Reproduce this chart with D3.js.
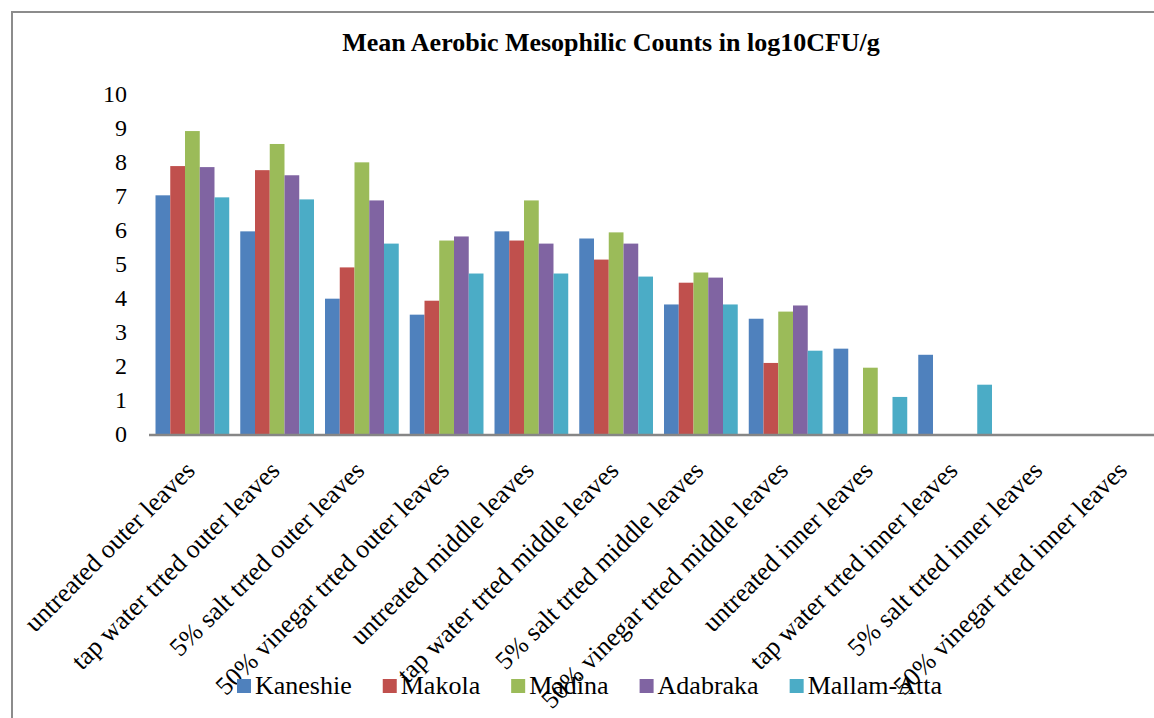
<!DOCTYPE html>
<meta charset="utf-8">
<script src="https://d3js.org/d3.v7.min.js"></script>
<style>
  body { margin: 0; background: #fff; }
  text { font-family: "Liberation Serif", "Times New Roman", serif; fill: #000; }
</style>
<div id="chart"></div>
<script>

// categories along the x axis
var categories = [
  "untreated outer leaves",
  "tap water trted outer leaves",
  "5% salt trted outer leaves",
  "50% vinegar trted outer leaves",
  "untreated middle leaves",
  "tap water trted middle leaves",
  "5% salt trted middle leaves",
  "50% vinegar trted middle leaves",
  "untreated inner leaves",
  "tap water trted inner leaves",
  "5% salt trted inner leaves",
  "50% vinegar trted inner leaves"
];

var series = ["Kaneshie", "Makola", "Madina", "Adabraka", "Mallam-Atta"];
var colors = ["#4F81BD", "#C0504D", "#9BBB59", "#8064A2", "#4BACC6"];

// mean log10 CFU/g
var kaneshie   = [7.02, 5.96, 3.98, 3.51, 5.96, 5.75, 3.81, 3.39, 2.51, 2.33, 0, 0];
var makola     = [7.88, 7.76, 4.90, 3.92, 5.69, 5.13, 4.45, 2.09, 0, 0, 0, 0];
var madina     = [8.91, 8.53, 7.99, 5.69, 6.87, 5.93, 4.75, 3.60, 1.95, 0, 0, 0];
var adabraka   = [7.85, 7.61, 6.87, 5.81, 5.60, 5.60, 4.60, 3.78, 0, 0, 0, 0];
var mallamAtta = [6.96, 6.90, 5.60, 4.72, 4.72, 4.63, 3.81, 2.45, 1.09, 1.45, 0, 0];

var yTicks = [0, 1, 2, 3, 4, 5, 6, 7, 8, 9, 10];

var values = [kaneshie, makola, madina, adabraka, mallamAtta];

var W = 1154, H = 718;

var svg = d3.select("#chart")
  .append("svg")
    .attr("width", W)
    .attr("height", H);

svg.append("rect")
  .attr("width", W).attr("height", H)
  .attr("fill", "#fff");

// chart frame (cut off on the right and bottom, like the source)
svg.append("rect")
  .attr("x", 12).attr("y", 12)
  .attr("width", 1200).attr("height", 760)
  .attr("fill", "none")
  .attr("stroke", "#8c8c8c")
  .attr("stroke-width", 2);

// scales
var x = d3.scaleBand()
  .domain(categories)
  .range([150, 1167])
  .paddingInner(0.13)
  .paddingOuter(0.065);

var xs = d3.scaleBand()
  .domain(series)
  .range([0, x.bandwidth()]);

var y = d3.scaleLinear()
  .domain([0, 10])
  .range([434, 94]);

// title
svg.append("text")
  .attr("x", 611)
  .attr("y", 51)
  .attr("text-anchor", "middle")
  .style("font-size", "26px")
  .style("font-weight", "bold")
  .text("Mean Aerobic Mesophilic Counts in log10CFU/g");

// y axis labels only
var yAxis = svg.append("g")
  .attr("transform", "translate(130,0)")
  .call(d3.axisLeft(y).tickValues(yTicks).tickSize(0).tickPadding(3));
yAxis.attr("font-family", "Liberation Serif").attr("font-size", 24);
yAxis.select(".domain").remove();
yAxis.selectAll("text")
  .style("font-family", "'Liberation Serif', serif")
  .style("font-size", "24px")
  .attr("fill", "#000");

// bars
var groups = svg.selectAll("g.cat")
  .data(categories)
  .enter()
  .append("g")
    .attr("class", "cat")
    .attr("transform", function(d) { return "translate(" + x(d) + ",0)"; });

groups.selectAll("rect")
  .data(function(d, i) {
    return series.map(function(s, j) { return {s: s, v: values[j][i], c: colors[j]}; });
  })
  .enter()
  .append("rect")
    .attr("x", function(d) { return xs(d.s); })
    .attr("y", function(d) { return y(d.v); })
    .attr("width", xs.bandwidth())
    .attr("height", function(d) { return y(0) - y(d.v); })
    .attr("fill", function(d) { return d.c; });

// category axis line
svg.append("line")
  .attr("x1", 149).attr("x2", W)
  .attr("y1", y(0) + 1).attr("y2", y(0) + 1)
  .attr("stroke", "#868686")
  .attr("stroke-width", 2.5);

// rotated category labels
svg.selectAll("text.xlab")
  .data(categories)
  .enter()
  .append("text")
    .attr("class", "xlab")
    .attr("text-anchor", "end")
    .style("font-size", "26px")
    .attr("transform", function(d) {
      return "translate(" + (x(d) + x.bandwidth() / 2 + 4) + ",472) rotate(-45)";
    })
    .text(function(d) { return d; });

// legend
var legend = svg.append("g");
var lx = 237;
series.forEach(function(s, i) {
  legend.append("rect")
    .attr("x", lx).attr("y", 679)
    .attr("width", 14).attr("height", 14)
    .attr("fill", colors[i]);
  var t = legend.append("text")
    .attr("x", lx + 18)
    .attr("y", 694)
    .style("font-size", "26px")
    .text(s);
  lx += 18 + t.node().getComputedTextLength() + 31;
});

</script>
